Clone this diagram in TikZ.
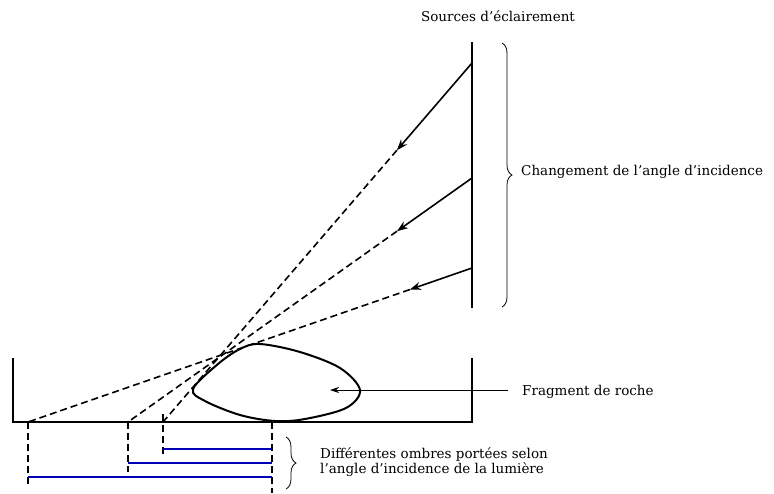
\documentclass[tikz,border=0pt]{standalone}
\usepackage{fontspec}
\setmainfont{DejaVu Serif}
\usetikzlibrary{arrows.meta, positioning, calc, decorations.pathreplacing}

\begin{document}
\begin{tikzpicture}[
    x=1pt, y=-1pt,
    txt/.style={font=\fontsize{13.5}{15.5}\selectfont, inner sep=2pt, align=left},
    trait/.style={line width=2pt},
    rayon/.style={-{Stealth[length=11pt, width=8pt]}, line width=1.6pt},
    pointille/.style={line width=1.6pt, dash pattern=on 7pt off 4pt},
    ombre/.style={draw=blue!70!black, line width=1.5pt},
    accolade/.style={decorate, decoration={brace, amplitude=10pt}, line width=0.8pt},
    fleche/.style={-{Stealth[length=9pt, width=6pt]}, line width=1pt}
]
\useasboundingbox (0,0) rectangle (774,493);

% Sources
\coordinate (b1) at (472,42);
\coordinate (b2) at (472,308);
\draw[trait] (b1) -- (b2);
\node[txt] (sources) at (498,16) {Sources d'éclairement};

\coordinate (s1) at (472,63);
\coordinate (s2) at (472,178);
\coordinate (s3) at (472,268);

% Sol et parois
\coordinate (m1) at (13,358);
\coordinate (m2) at (13,422);
\coordinate (m3) at (472,422);
\coordinate (m4) at (472,358);
\draw[trait] (m1) -- (m2) -- (m3) -- (m4);

% Points d'ombre au sol
\coordinate (o1) at (163,422);
\coordinate (o2) at (128,422);
\coordinate (o3) at (28,422);
\coordinate (o4) at (272,422);

% Rayons
\coordinate (t1) at ($(s1)!0.243!(o1)$);
\coordinate (t2) at ($(s2)!0.218!(o2)$);
\coordinate (t3) at ($(s3)!0.14!(o3)$);
\draw[pointille] (t1) -- (o1);
\draw[pointille] (t2) -- (o2);
\draw[pointille] (t3) -- (o3);
\draw[rayon] (s1) -- (t1);
\draw[rayon] (s2) -- (t2);
\draw[rayon] (s3) -- (t3);

% Fragment
\draw[line width=2pt, fill=white] plot[smooth cycle, tension=0.55] coordinates {
  (193,389) (218,364) (240,349) (260,344) (300,352) (340,368) (360,390)
  (346,408) (305,419) (275,421) (240,415) (205,401)};
\coordinate (r1) at (330,390);
\node[txt, anchor=west] (roche) at (520,392) {Fragment de roche};
\draw[fleche] (roche.west) ++(-12,-2) coordinate (r0) -- (r1);

% Accolade haute
\draw[accolade] (502,43) -- (502,307) coordinate[midway] (a1);
\node[txt, anchor=west] (angle) at (519,172) {Changement de l'angle d'incidence};

% Ombres
\coordinate (v1) at (163,456);
\coordinate (v2) at (128,472);
\coordinate (v3) at (28,485);
\coordinate (v4) at (272,493);
\draw[pointille] (163,414) -- (v1);
\draw[pointille] (o2) -- (v2);
\draw[pointille] (o3) -- (v3);
\draw[pointille] (o4) -- (v4);
\draw[ombre] (163,449) -- (272,449);
\draw[ombre] (128,463) -- (272,463);
\draw[ombre] (28,477) -- (272,477);

% Accolade basse
\draw[accolade] (286,437) -- (286,489);
\node[txt, anchor=west] (ombres) at (318,462) {Différentes ombres portées selon\\l'angle d'incidence de la lumière};

\end{tikzpicture}
\end{document}
